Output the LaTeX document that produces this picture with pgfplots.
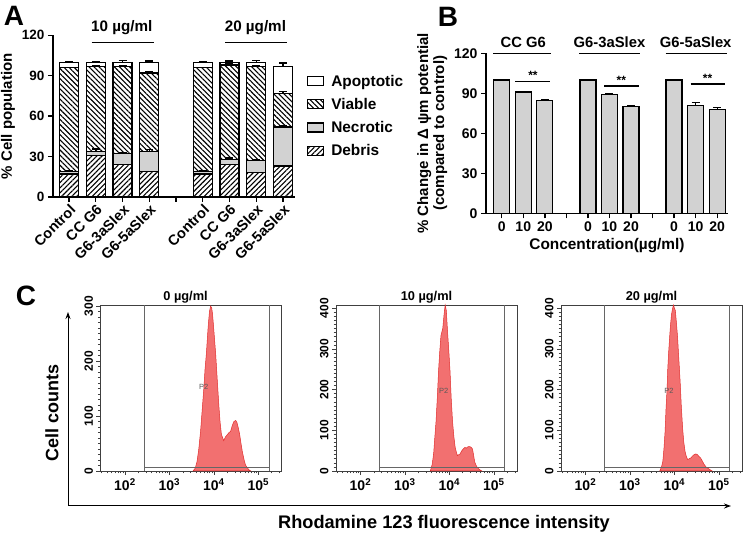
\documentclass[border=0pt]{standalone}
\usepackage{fontspec}
\setmainfont{Liberation Sans}
\usepackage{pgfplots}
\pgfplotsset{compat=1.18}
\usetikzlibrary{patterns.meta,arrows.meta}

\newcommand\fs[1]{\fontsize{#1}{#1}\selectfont}

\tikzset{
  gate/.style={black!60, line width=0.6pt},
  starlbl/.style={font=\bfseries\fs{9.5},text=black!55},
}
\pgfplotsset{
  lgbox/.style={legend image code/.code={\draw[##1,line width=1.2pt] (0pt,-4.5pt) rectangle (16pt,4.5pt);
    \path (21pt,0pt);}},
  errA/.style={error bars/.cd, y dir=plus, y explicit,
    error bar style={line width=1.4pt,black},
    error mark options={rotate=90,mark size=4pt,line width=1.4pt,black},
    /pgfplots/.cd},
  cpanel/.style={
    anchor=south west, scale only axis, width=181pt, height=166pt,
    xmin=1.45, xmax=5.52, ymin=0,
    axis line style={line width=0.6pt,black!75},
    tick style={line width=0.6pt,black!75}, tick align=outside,
    major tick length=4pt, minor tick length=2.5pt,
    xtick pos=left, ytick pos=left,
    xtick={2,3,4,5},
    xticklabels={10\textsuperscript{2},10\textsuperscript{3},10\textsuperscript{4},10\textsuperscript{5}},
    minor xtick={1.477,1.602,1.699,1.778,1.845,1.903,1.954,
      2.301,2.477,2.602,2.699,2.778,2.845,2.903,2.954,
      3.301,3.477,3.602,3.699,3.778,3.845,3.903,3.954,
      4.301,4.477,4.602,4.699,4.778,4.845,4.903,4.954,
      5.301,5.477},
    minor y tick num=9,
    x tick label style={font=\bfseries\fs{14}},
    y tick label style={font=\bfseries\fs{12},rotate=90,anchor=south},
    /pgf/number format/assume math mode=true,
    clip=false,
  },
  hist/.style={fill={rgb,255:red,242;green,112;blue,112}, draw={rgb,255:red,225;green,45;blue,45}, line width=0.5pt},
}

\begin{document}
\begin{tikzpicture}[x=1pt,y=1pt]
\useasboundingbox (0,0) rectangle (745,538);

% ---------------- panel A
\begin{axis}[
  at={(53pt,341pt)}, anchor=south west, scale only axis,
  width=242pt, height=161.7pt,
  ybar stacked, bar width=19pt,
  xmin=0.4, xmax=9.45, ymin=0, ymax=120,
  axis x line*=bottom, axis y line*=left,
  axis line style={line width=1.4pt},
  tick style={line width=1.4pt,black}, major tick length=5pt, tick align=outside,
  xtick={1,...,9},
  xticklabels={Control,CC G6,G6-3aSlex,G6-5aSlex,,Control,CC G6,G6-3aSlex,G6-5aSlex},
  x tick label style={rotate=45,anchor=north east,inner sep=1pt,font=\bfseries\fs{14.5}},
  ytick={0,30,60,90,120},
  y tick label style={font=\bfseries\fs{13.5}},
  /pgf/number format/assume math mode=true,
  ylabel={\% Cell population}, ylabel style={font=\bfseries\fs{15}},
  legend style={draw=none,fill=none,at={(1.045,0.775)},anchor=north west,
    font=\bfseries\fs{15.4},row sep=6.5pt,legend cell align=left,inner sep=1pt},
  reverse legend,
  clip=false,
]
\addplot[draw=black,line width=1.2pt,lgbox,
  pattern={Lines[angle=45,distance=3.6pt,line width=1.1pt]}]
  coordinates {(1,17) (2,31) (3,24) (4,19) (6,17) (7,24) (8,18) (9,23)};
\addlegendentry{Debris}
\addplot[draw=black,line width=1.2pt,lgbox,fill=gray!35,errA]
  coordinates {(1,2) +- (0,0.5) (2,3) +- (0,1.5) (3,8) +- (0,0.8) (4,15) +- (0,1.2)
               (6,2) +- (0,0.5) (7,4) +- (0,0.8) (8,9) +- (0,0.8) (9,29) +- (0,1.2)};
\addlegendentry{Necrotic}
\addplot[draw=black,line width=1.2pt,lgbox,
  pattern={Lines[angle=-45,distance=3.6pt,line width=1.1pt]},errA]
  coordinates {(1,77) +- (0,0.3) (2,63) +- (0,0.3) (3,65) +- (0,0.5) (4,58) +- (0,0.8)
               (6,77) +- (0,0.3) (7,70) +- (0,0.6) (8,70) +- (0,0.6) (9,25) +- (0,1.2)};
\addlegendentry{Viable}
\addplot[draw=black,line width=1.2pt,lgbox,fill=white,errA]
  coordinates {(1,4) +- (0,0.3) (2,3) +- (0,0.3) (3,3) +- (0,1.5) (4,8) +- (0,0.8)
               (6,4) +- (0,0.3) (7,2) +- (0,1) (8,3) +- (0,1.5) (9,20) +- (0,2.5)};
\addlegendentry{Apoptotic}

\draw[line width=1.5pt] (axis cs:1.84,114.5) -- (axis cs:4.18,114.5);
\draw[line width=1.5pt] (axis cs:6.84,114.5) -- (axis cs:9.15,114.5);
\node[font=\bfseries\fs{15.2}] at (axis cs:2.97,126) {10 µg/ml};
\node[font=\bfseries\fs{15.2}] at (axis cs:7.97,126) {20 µg/ml};
\node[starlbl] at (axis cs:3,27.5) {**};
\node[starlbl] at (axis cs:4,22.5) {**};
\node[starlbl] at (axis cs:4,95.5) {**};
\node[starlbl] at (axis cs:8,22) {**};
\node[starlbl] at (axis cs:9,25) {**};
\node[starlbl] at (axis cs:9,81) {**};
\end{axis}
\node[font=\bfseries\fs{28}] at (14,522) {A};

% ---------------- panel B
\begin{axis}[
  at={(486pt,324.7pt)}, anchor=south west, scale only axis,
  width=242pt, height=160pt,
  ybar, bar width=16pt,
  xmin=0.27, xmax=11.5, ymin=0, ymax=120,
  axis x line*=bottom, axis y line*=left,
  axis line style={line width=1.4pt},
  tick style={line width=1.4pt,black}, major tick length=5pt, tick align=outside,
  xtick={1,...,11},
  xticklabels={0,10,20,,0,10,20,,0,10,20},
  ytick={0,30,60,90,120},
  tick label style={font=\bfseries\fs{14}},
  /pgf/number format/assume math mode=true,
  ylabel={\% Change in Δ ψm potential\\(compared to control)},
  ylabel style={font=\bfseries\fontsize{15}{16}\selectfont,align=center},
  xlabel={Concentration(µg/ml)}, xlabel style={font=\bfseries\fs{15.4}},
  clip=false,
]
\addplot[fill=gray!35,draw=black,line width=1.3pt,
  error bars/.cd, y dir=plus, y explicit,
  error bar style={line width=1.3pt,black},
  error mark options={rotate=90,mark size=4pt,line width=1.3pt,black}]
  coordinates {(1,100) +- (0,0) (2,91) +- (0,0.5) (3,84.5) +- (0,0.6)
               (5,100) +- (0,0) (6,89) +- (0,0.6) (7,80) +- (0,1)
               (9,100) +- (0,0) (10,81) +- (0,2) (11,78) +- (0,1.5)};
\draw[line width=1.5pt] (axis cs:0.6,120) -- (axis cs:3.3,120);
\draw[line width=1.5pt] (axis cs:4.6,120) -- (axis cs:7.4,120);
\draw[line width=1.5pt] (axis cs:8.6,120) -- (axis cs:11.45,120);
\node[font=\bfseries\fs{14.8}] at (axis cs:2,128.5) {CC G6};
\node[font=\bfseries\fs{14.8}] at (axis cs:6,128.5) {G6-3aSlex};
\node[font=\bfseries\fs{14.8}] at (axis cs:10,128.5) {G6-5aSlex};
\draw[line width=1.3pt] (axis cs:1.62,99) -- (axis cs:3.26,99);
\draw[line width=1.3pt] (axis cs:5.76,95.5) -- (axis cs:7.35,95.5);
\draw[line width=1.3pt] (axis cs:9.76,97) -- (axis cs:11.34,97);
\node[font=\bfseries\fs{12}] at (axis cs:2.45,103.5) {**};
\node[font=\bfseries\fs{12}] at (axis cs:6.55,100) {**};
\node[font=\bfseries\fs{12}] at (axis cs:10.55,101.5) {**};
\end{axis}
\node[font=\bfseries\fs{28}] at (448,521) {B};

% ---------------- panel C
\begin{axis}[cpanel, at={(100.5pt,67pt)}, ymax=302, ytick={0,100,200,300}]
\addplot[hist] coordinates {(3.53,0) (3.58,5) (3.62,17) (3.66,40) (3.70,72) (3.74,115)
  (3.775,152) (3.80,185) (3.83,213) (3.87,262) (3.90,290) (3.925,300) (3.95,297)
  (3.97,285) (4.00,255) (4.04,213) (4.08,160) (4.11,121) (4.14,88) (4.17,66) (4.20,60)
  (4.22,55) (4.26,62) (4.30,66) (4.34,70) (4.375,72) (4.41,82) (4.45,90) (4.49,92)
  (4.52,88) (4.55,78) (4.58,66) (4.61,50) (4.64,35) (4.68,20) (4.71,11) (4.75,6)
  (4.79,2) (4.83,0)} \closedcycle;
\draw[gate] (axis cs:2.43,0) -- (axis cs:2.43,302);
\draw[gate] (axis cs:5.24,0) -- (axis cs:5.24,302);
\draw[gate] (axis cs:2.43,7) -- (axis cs:5.24,7);
\node[font=\fs{7.5},text=black!65] at (axis cs:3.77,153) {P2};
\node[font=\bfseries\fs{12.8},above,inner sep=1.5pt] at (rel axis cs:0.47,1) {0 µg/ml};
\end{axis}

\begin{axis}[cpanel, at={(336pt,67pt)}, ymax=408, ytick={0,100,200,300,400}]
\addplot[hist] coordinates {(3.57,0) (3.61,15) (3.645,42) (3.67,80) (3.70,123) (3.73,185)
  (3.755,244) (3.78,290) (3.81,333) (3.85,350) (3.88,385) (3.905,408) (3.93,395)
  (3.96,340) (3.99,290) (4.015,244) (4.04,180) (4.07,123) (4.10,85) (4.13,58) (4.16,45)
  (4.18,38) (4.21,40) (4.24,42) (4.28,50) (4.31,54) (4.35,58) (4.38,56) (4.42,60)
  (4.46,60) (4.49,58) (4.52,54) (4.55,35) (4.57,22) (4.60,14) (4.62,10) (4.66,5)
  (4.70,2) (4.73,0)} \closedcycle;
\draw[gate] (axis cs:2.43,0) -- (axis cs:2.43,408);
\draw[gate] (axis cs:5.24,0) -- (axis cs:5.24,408);
\draw[gate] (axis cs:2.43,9) -- (axis cs:5.24,9);
\node[font=\fs{7.5},text=black!65] at (axis cs:3.87,196) {P2};
\node[font=\bfseries\fs{12.8},above,inner sep=1.5pt] at (rel axis cs:0.5,1) {10 µg/ml};
\end{axis}

\begin{axis}[cpanel, at={(561pt,67pt)}, ymax=408, ytick={0,100,200,300,400}]
\addplot[hist] coordinates {(3.67,0) (3.71,10) (3.74,24) (3.765,55) (3.79,97) (3.81,150)
  (3.835,202) (3.85,250) (3.87,291) (3.89,325) (3.91,356) (3.935,385) (3.96,400)
  (3.98,408) (4.00,400) (4.02,395) (4.045,365) (4.07,331) (4.10,275) (4.13,218)
  (4.155,160) (4.185,105) (4.21,72) (4.24,48) (4.27,35) (4.30,28) (4.33,30) (4.37,32)
  (4.40,36) (4.44,40) (4.48,42) (4.52,40) (4.55,36) (4.59,32) (4.63,24) (4.67,16)
  (4.71,10) (4.74,8) (4.79,4) (4.85,0)} \closedcycle;
\draw[gate] (axis cs:2.43,0) -- (axis cs:2.43,408);
\draw[gate] (axis cs:5.24,0) -- (axis cs:5.24,408);
\draw[gate] (axis cs:2.43,9) -- (axis cs:5.24,9);
\node[font=\fs{7.5},text=black!65] at (axis cs:3.88,196) {P2};
\node[font=\bfseries\fs{12.8},above,inner sep=1.5pt] at (rel axis cs:0.5,1) {20 µg/ml};
\end{axis}

\node[font=\bfseries\fs{28}] at (26,242) {C};
\draw[-{Stealth[length=7pt,width=5pt]},line width=1pt] (68,32) -- (68,226);
\draw[-{Stealth[length=7pt,width=5pt]},line width=1pt] (68,32) -- (731,32);
\node[font=\bfseries\fs{18},rotate=90] at (52,125) {Cell counts};
\node[font=\bfseries\fs{18.2}] at (444,14) {Rhodamine 123 fluorescence intensity};
\end{tikzpicture}
\end{document}
